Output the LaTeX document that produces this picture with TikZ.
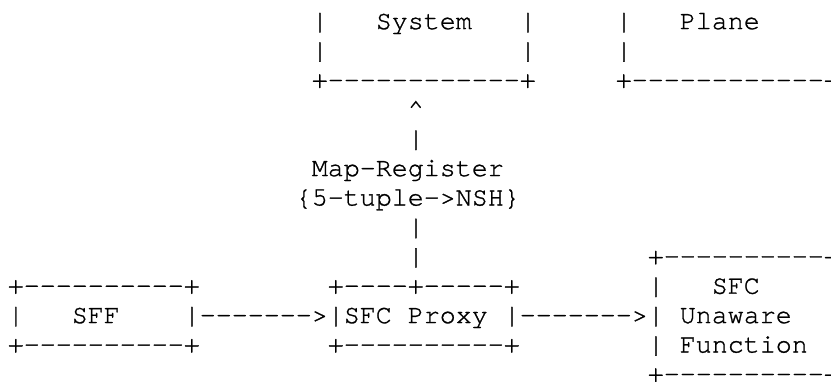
\documentclass[tikz,border=0pt]{standalone}
\usepackage{fontspec}
\setmonofont{texgyrecursor-regular.otf}[FakeBold=1.0]
\tikzset{
  glyphs/.style={anchor=base west, inner sep=0pt, outer sep=0pt, text=black,
    font=\ttfamily\fontsize{26.667bp}{29.4bp}\selectfont}
}
% one text segment on the character grid: name, column, row, text
\newcommand\seg[4]{\node[glyphs] (#1) at ({7.8+16*#2},{-(29.1+29.4*#3)}) {#4};}
\begin{document}
\begin{tikzpicture}[x=1bp,y=1bp]
\useasboundingbox (0,0) rectangle (831,-381);
\fill[white] (0,0) rectangle (831,-381);
\clip (0,0) rectangle (831,-381);
% mapping system and control plane boxes (top)
\seg{msL}{19}{0}{|}
\seg{msText}{23}{0}{System}
\seg{msR}{32}{0}{|}
\seg{cpL}{38}{0}{|}
\seg{cpText}{42}{0}{Plane}
\seg{cpR}{51}{0}{|}
\seg{msL1}{19}{1}{|}
\seg{msR1}{32}{1}{|}
\seg{cpL1}{38}{1}{|}
\seg{cpR1}{51}{1}{|}
\seg{msBot}{19}{2}{+------------+}
\seg{cpBot}{38}{2}{+------------+}
% Map-Register path up to the mapping system
\seg{tip}{25}{3}{\textasciicircum}
\seg{up1}{25}{4}{|}
\seg{mapreg}{19}{5}{Map-Register}
\seg{tuple}{18}{6}{\{5-tuple->NSH\}}
\seg{up2}{25}{7}{|}
\seg{up3}{25}{8}{|}
% SFC unaware function box (right)
\seg{sufTop}{40}{8}{+----------+}
\seg{sufL0}{40}{9}{|}
\seg{sufT1}{44}{9}{SFC}
\seg{sufR0}{51}{9}{|}
\seg{sufL1}{40}{10}{|}
\seg{sufT2}{42}{10}{Unaware}
\seg{sufR1}{51}{10}{|}
\seg{sufL2}{40}{11}{|}
\seg{sufT3}{42}{11}{Function}
\seg{sufR2}{51}{11}{|}
\seg{sufBot}{40}{12}{+----------+}
% SFF box
\seg{sffTop}{0}{9}{+----------+}
\seg{sffL}{0}{10}{|}
\seg{sffText}{4}{10}{SFF}
\seg{sffR}{11}{10}{|}
\seg{sffBot}{0}{11}{+----------+}
% SFC proxy box
\seg{pxTop}{20}{9}{+----+-----+}
\seg{pxL}{20}{10}{|}
\seg{pxText}{21}{10}{SFC Proxy}
\seg{pxR}{31}{10}{|}
\seg{pxBot}{20}{11}{+----------+}
% flow arrows
\seg{arrA}{12}{10}{------->}
\seg{arrB}{32}{10}{------->}
\end{tikzpicture}
\end{document}
